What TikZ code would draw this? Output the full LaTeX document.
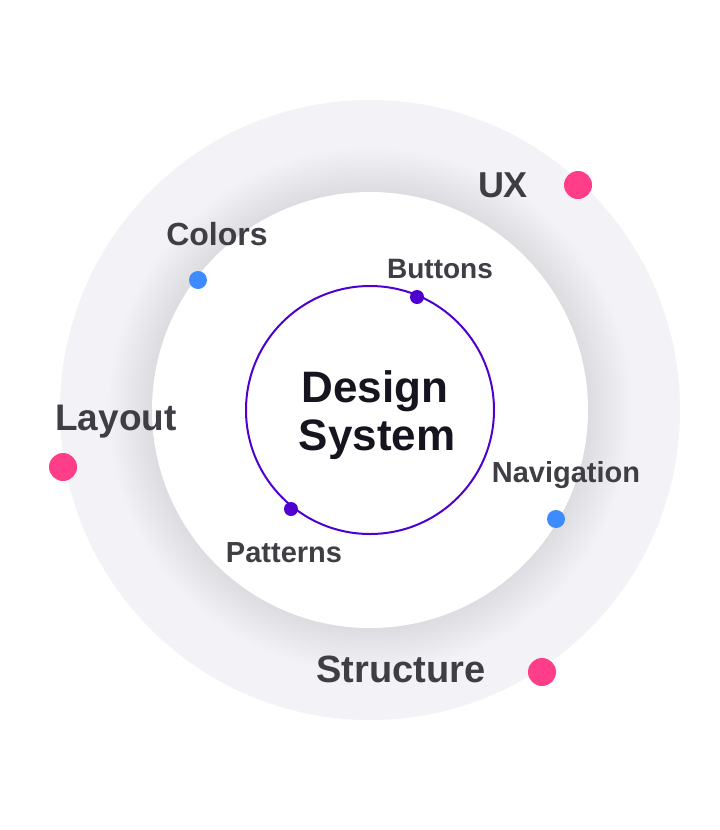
\documentclass[tikz,border=0pt]{standalone}
\usepackage{fontspec}
\setmainfont{Liberation Sans}
\definecolor{ringc}{HTML}{F3F3F7}
\definecolor{shadowc}{HTML}{30304A}
\definecolor{purplec}{HTML}{4F00D0}
\definecolor{pinkc}{HTML}{FF3D88}
\definecolor{bluec}{HTML}{3D8BFF}
\definecolor{labelc}{HTML}{3F3E45}
\definecolor{titlec}{HTML}{16141E}
\begin{document}
\begin{tikzpicture}[x=1pt,y=-1pt,
  lbl/.style={text=labelc, inner sep=0pt, anchor=base},
  pinkdot/.style={circle, fill=pinkc, minimum size=28pt, inner sep=0pt},
  bluedot/.style={circle, fill=bluec, minimum size=18pt, inner sep=0pt},
  purpledot/.style={circle, fill=purplec, minimum size=14pt, inner sep=0pt},
  ttl/.style={text=titlec, inner sep=0pt, anchor=base, font=\bfseries\fontsize{44}{48}\selectfont}]
\useasboundingbox (0,0) rectangle (720,830);
\fill[white] (0,0) rectangle (720,830);
\coordinate (c) at (370,410);
\fill[ringc] (c) circle[radius=310pt];
\foreach \k in {1,...,22} {
  \fill[shadowc, fill opacity=0.005] (c) circle[radius={218pt+2pt*\k}];
}
\fill[white] (c) circle[radius=218pt];
\draw[purplec, line width=2pt] (c) circle[radius=124pt];
% dots
\node[pinkdot] (uxdot) at (578,185) {};
\node[pinkdot] (layoutdot) at (63,467) {};
\node[pinkdot] (structuredot) at (542,672) {};
\node[bluedot] (colorsdot) at (198,280) {};
\node[bluedot] (navdot) at (556,519) {};
\node[purpledot] (buttonsdot) at (417,297) {};
\node[purpledot] (patternsdot) at (291,509) {};
% labels
\node[lbl, font=\bfseries\fontsize{36}{40}\selectfont] (ux) at (503,197) {UX};
\node[lbl, font=\bfseries\fontsize{32}{36}\selectfont] (colors) at (217,245) {Colors};
\node[lbl, font=\bfseries\fontsize{28}{32}\selectfont] (buttons) at (440,278) {Buttons};
\node[lbl, font=\bfseries\fontsize{37}{40}\selectfont] (layout) at (116,430) {Layout};
\node[lbl, font=\bfseries\fontsize{29}{32}\selectfont] (navigation) at (566,482) {Navigation};
\node[lbl, font=\bfseries\fontsize{29}{32}\selectfont] (patterns) at (284,562) {Patterns};
\node[lbl, font=\bfseries\fontsize{38}{42}\selectfont] (structure) at (401,682) {Structure};
\node[ttl] (design) at (375,402) {Design};
\node[ttl] (system) at (377,450) {System};
\end{tikzpicture}
\end{document}
